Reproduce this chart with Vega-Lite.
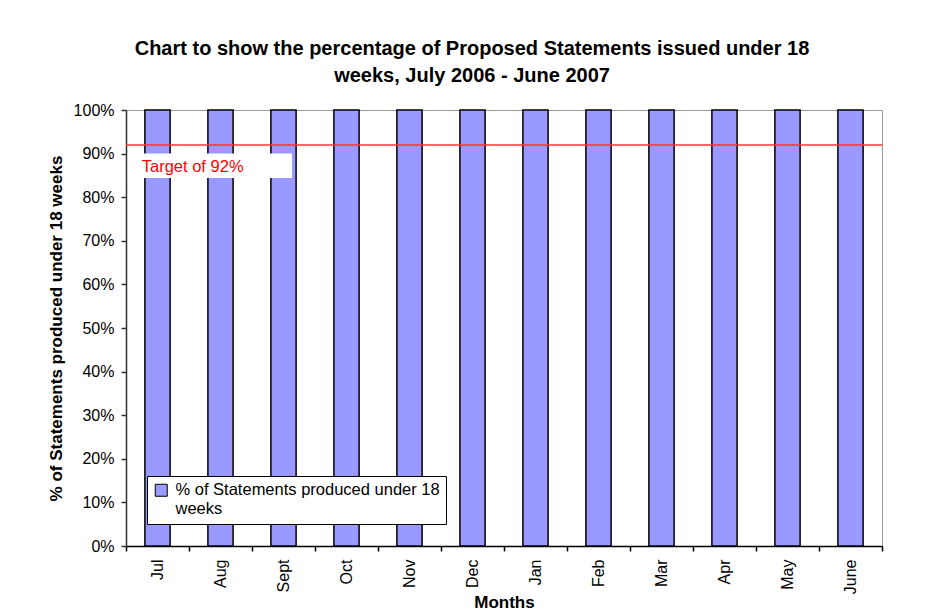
{
  "$schema": "https://vega.github.io/schema/vega-lite/v6.json",
  "width": 756,
  "height": 436,
  "autosize": {"type": "none"},
  "padding": {"left": 126, "top": 110, "right": 65, "bottom": 70},
  "background": "white",
  "config": {
    "font": "Liberation Sans",
    "view": {"stroke": "#9a9a9a", "strokeWidth": 1}
  },
  "title": {
    "text": ["Chart to show the percentage of Proposed Statements issued under 18", "weeks, July 2006 - June 2007"],
    "fontSize": 20,
    "fontWeight": "bold",
    "font": "Liberation Sans",
    "color": "black",
    "anchor": "middle",
    "dx": -32,
    "offset": 16,
    "lineHeight": 27
  },
  "datasets": {
    "months": [
      {"month": "Jul", "pct": 100},
      {"month": "Aug", "pct": 100},
      {"month": "Sept", "pct": 100},
      {"month": "Oct", "pct": 100},
      {"month": "Nov", "pct": 100},
      {"month": "Dec", "pct": 100},
      {"month": "Jan", "pct": 100},
      {"month": "Feb", "pct": 100},
      {"month": "Mar", "pct": 100},
      {"month": "Apr", "pct": 100},
      {"month": "May", "pct": 100},
      {"month": "June", "pct": 100}
    ],
    "target": [{"target": 92, "label": "Target of 92%"}]
  },
  "layer": [
    {
      "data": {"name": "months"},
      "mark": {"type": "bar", "width": {"band": 0.4}, "stroke": "black", "strokeWidth": 1.5},
      "encoding": {
        "x": {
          "field": "month",
          "type": "nominal",
          "sort": null,
          "scale": {"paddingInner": 0, "paddingOuter": 0},
          "title": "Months",
          "axis": {
            "labelAngle": -90,
            "labelAlign": "right",
            "labelBaseline": "middle",
            "labelFontSize": 16,
            "labelColor": "black",
            "labelPadding": 8,
            "tickBand": "extent",
            "tickSize": 5,
            "tickColor": "black",
            "tickWidth": 1.5,
            "domainColor": "black",
            "domainWidth": 1.5,
            "grid": false,
            "titleFontSize": 17,
            "titleFontWeight": "bold",
            "titleColor": "black",
            "titlePadding": 1
          }
        },
        "y": {
          "field": "pct",
          "type": "quantitative",
          "scale": {"domain": [0, 100]},
          "title": "% of Statements produced under 18 weeks",
          "axis": {
            "values": [0, 10, 20, 30, 40, 50, 60, 70, 80, 90, 100],
            "labelExpr": "datum.value + '%'",
            "labelFontSize": 16,
            "labelColor": "black",
            "labelPadding": 7,
            "tickSize": 5,
            "tickColor": "#333333",
            "tickWidth": 1.5,
            "domainColor": "#333333",
            "domainWidth": 1.5,
            "grid": false,
            "titleFontSize": 17,
            "titleFontWeight": "bold",
            "titleColor": "black",
            "titlePadding": 8
          }
        },
        "color": {
          "datum": "% of Statements produced under 18 weeks",
          "scale": {"range": ["#9999FF"]},
          "legend": {
            "orient": "none",
            "legendX": 21,
            "legendY": 366,
            "title": null,
            "symbolType": "square",
            "symbolSize": 144,
            "symbolStrokeColor": "black",
            "symbolStrokeWidth": 1,
            "labelFontSize": 16.5,
            "labelColor": "black",
            "labelLimit": 400,
            "labelOffset": 6,
            "labelExpr": "['% of Statements produced under 18', 'weeks']",
            "strokeColor": "black",
            "fillColor": "white",
            "padding": 6
          }
        }
      }
    },
    {
      "data": {"name": "target"},
      "mark": {"type": "rect", "fill": "white"},
      "encoding": {
        "x": {"datum": "Jul", "bandPosition": 0.03},
        "x2": {"datum": "Sept", "bandPosition": 0.635},
        "y": {"datum": 90},
        "y2": {"datum": 84.4}
      }
    },
    {
      "data": {"name": "target"},
      "mark": {"type": "rule", "color": "#ff3333", "strokeWidth": 1.5},
      "encoding": {
        "y": {"field": "target", "type": "quantitative"}
      }
    },
    {
      "data": {"name": "target"},
      "mark": {"type": "text", "align": "left", "baseline": "alphabetic", "color": "#ff0000", "fontSize": 16.5, "dy": 27},
      "encoding": {
        "x": {"datum": "Jul", "bandPosition": 0.25},
        "y": {"field": "target", "type": "quantitative"},
        "text": {"field": "label"}
      }
    }
  ]
}
